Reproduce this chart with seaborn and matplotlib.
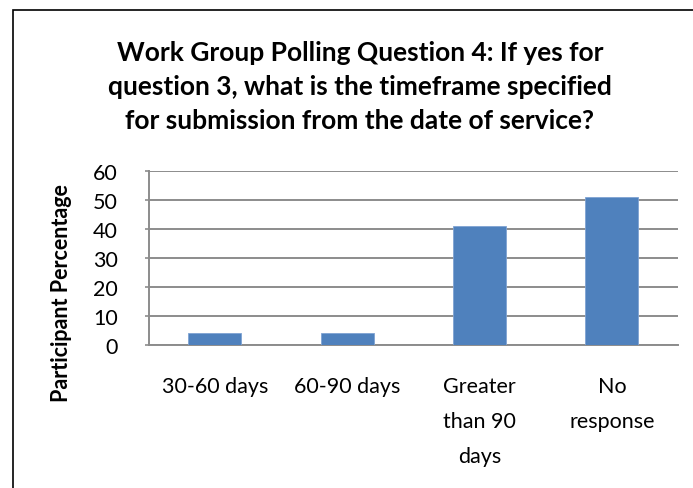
import matplotlib
matplotlib.use("Agg")
import matplotlib.pyplot as plt
import seaborn as sns
import pandas as pd
from matplotlib.patches import Rectangle

categories = ["30-60 days", "60-90 days", "Greater\nthan 90\ndays", "No\nresponse"]
values = [4, 4, 41, 51]
yticks = [0, 10, 20, 30, 40, 50, 60]
title = "Work Group Polling Question 4: If yes for\nquestion 3, what is the timeframe specified\nfor submission from the date of service?"
ylabel = "Participant Percentage"

sns.set_theme(style="white")
plt.rcParams['font.family'] = ['Lato', 'DejaVu Sans']

df = pd.DataFrame({"cat": categories, "val": values})

fig = plt.figure(figsize=(6.93, 4.89), dpi=100)
ax = fig.add_axes([148.5/693, 143/489, (678-148.5)/693, 174/489])

sns.barplot(data=df, x="cat", y="val", color="#4F81BD", width=0.4, saturation=1,
            edgecolor="#7FA3D3", linewidth=0.6, ax=ax, zorder=3)

ax.set_ylim(0, 60)
ax.set_xlim(-0.5, 3.5)
ax.set_yticks(yticks)
ax.yaxis.grid(True, color="#8C8C8C", linewidth=1.4, zorder=0)
ax.set_axisbelow(True)
for s in ["top", "right"]:
    ax.spines[s].set_visible(False)
for s in ["left", "bottom"]:
    ax.spines[s].set_color("#8C8C8C")
    ax.spines[s].set_linewidth(1.4)
ax.tick_params(axis="y", left=True, length=3, width=1.2, color="#8C8C8C", pad=19, labelsize=15.5, labelcolor="black")
ax.tick_params(axis="x", bottom=False, pad=16, labelsize=15.5, labelcolor="black")
for lbl in ax.get_xticklabels():
    lbl.set_linespacing(1.95)
    lbl.set_verticalalignment("top")
ax.set_xlabel("")
ax.set_ylabel("")

fig.text(360/693, 1 - 87/489, title, ha="center", va="center", fontsize=19,
         fontweight="bold", linespacing=1.5, color="black")
fig.text(62/693, 1 - 293/489, ylabel, rotation=90, ha="center", va="center",
         fontsize=15.5, fontweight="bold", color="black")

fig.patches.append(Rectangle((13/693, -0.2), 2.0, 1.2 - 11/489, transform=fig.transFigure,
                             fill=False, edgecolor="black", linewidth=1.2, clip_on=False))

fig.savefig("out.png", dpi=100)
